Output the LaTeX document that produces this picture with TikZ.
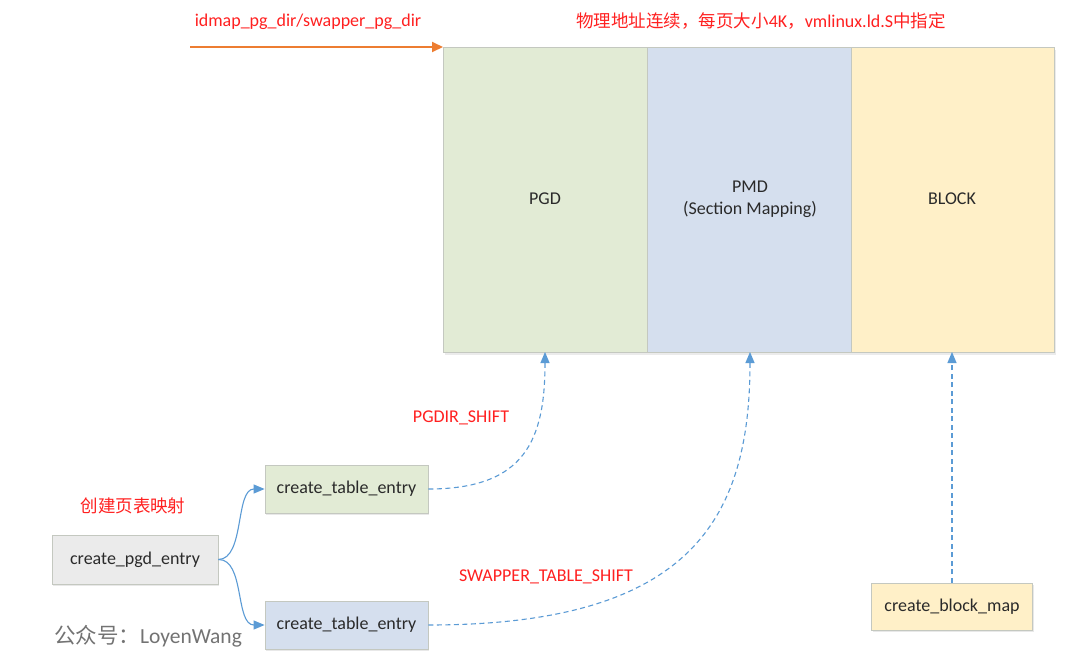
\documentclass[tikz,border=0pt]{standalone}
\usepackage{fontspec}
\setmainfont{Carlito}
\newfontfamily\cjk{Noto Sans CJK SC}
\usetikzlibrary{arrows.meta,shadows}
\definecolor{gfill}{HTML}{E2EBD5}
\definecolor{bfill}{HTML}{D5DFEE}
\definecolor{yfill}{HTML}{FFF0C8}
\definecolor{grfill}{HTML}{EBEBEB}
\definecolor{bord}{HTML}{C4C8C0}
\definecolor{lblue}{HTML}{5B9BD5}
\definecolor{lred}{HTML}{FF2020}
\definecolor{orng}{HTML}{ED7D31}
\definecolor{txt}{HTML}{2A2A2A}
\begin{document}
\begin{tikzpicture}[x=1pt,y=-1pt,
  region/.style={draw=bord,line width=0.8pt,anchor=north west,inner sep=0pt},
  regtxt/.style={text=txt,font=\fontsize{18}{22}\selectfont,align=center},
  fn/.style={draw=bord,line width=0.8pt,inner sep=0pt,text=txt,font=\fontsize{18}{20}\selectfont,
    drop shadow={opacity=0.18,shadow xshift=1pt,shadow yshift=-2pt}},
  redlbl/.style={text=lred,font=\fontsize{18}{20}\selectfont,inner sep=0pt},
  dashedarrow/.style={draw=lblue,line width=1.1pt,dash pattern=on 5pt off 3.5pt,-{Triangle[width=9pt,length=11pt]}},
  solidarrow/.style={draw=lblue,line width=1.1pt,-{Triangle[width=9pt,length=11pt]}}]
\useasboundingbox[fill=white] (0,0) rectangle (1080,662);
% memory regions
\fill[black,opacity=0.08] (445,50) rectangle (1056,355);
\node[region,fill=gfill,minimum width=204pt,minimum height=305pt] (pgd) at (443,47) {};
\node[region,fill=bfill,minimum width=204pt,minimum height=305pt] (pmd) at (647,47) {};
\node[region,fill=yfill,minimum width=203pt,minimum height=305pt] (blk) at (851,47) {};
\node[regtxt] (pgdt) at (545,199) {PGD};
\node[regtxt] (pmdt) at (750,199) {PMD\\(Section Mapping)};
\node[regtxt] (blkt) at (952,199) {BLOCK};
% top labels
\coordinate (os) at (190,47);
\draw[orng,line width=2pt,-{Triangle[width=10pt,length=11pt]}] (os) -- (pgd.north west);
\node[redlbl] (idl) at (308,22) {idmap\_pg\_dir/swapper\_pg\_dir};
\node[redlbl] (topl) at (761,21) {{\cjk\fontsize{17.5}{20}\selectfont 物理地址连续，每页大小}4K{\cjk\fontsize{17.5}{20}\selectfont ，}vmlinux.ld.S{\cjk\fontsize{17.5}{20}\selectfont 中指定}};
% function boxes
\node[fn,fill=grfill,minimum width=166pt,minimum height=49pt] (cpe) at (135,559.5) {create\_pgd\_entry};
\node[fn,fill=gfill,minimum width=163pt,minimum height=48pt] (ct1) at (346.5,489) {create\_table\_entry};
\node[fn,fill=bfill,minimum width=163pt,minimum height=48pt] (ct2) at (346.5,625) {create\_table\_entry};
\node[fn,fill=yfill,minimum width=161pt,minimum height=47pt] (cbm) at (952,606.5) {create\_block\_map};
% labels
\node[redlbl,font=\cjk\fontsize{17.5}{20}\selectfont] (cjl) at (133,506) {创建页表映射};
\node[redlbl] (pgs) at (461,418) {PGDIR\_SHIFT};
\node[redlbl] (sws) at (546,577) {SWAPPER\_TABLE\_SHIFT};
\node[text=black!55,font=\fontsize{21.5}{24}\selectfont,inner sep=0pt] (wm) at (148,636) {{\cjk 公众号：}LoyenWang};
% connectors
\coordinate (pgdb) at (545,352);
\coordinate (pmdb) at (750,352);
\coordinate (blkb) at (952,352);
\draw[solidarrow] (cpe.east) .. controls (245,559) and (235,489) .. (ct1.west);
\draw[solidarrow] (cpe.east) .. controls (245,559) and (235,625) .. (ct2.west);
\draw[dashedarrow] (ct1.east) .. controls (525,489) and (545,440) .. (pgdb);
\draw[dashedarrow] (ct2.east) .. controls (690,625) and (750,520) .. (pmdb);
\draw[dashedarrow] (cbm.north) -- (blkb);
\end{tikzpicture}
\end{document}
